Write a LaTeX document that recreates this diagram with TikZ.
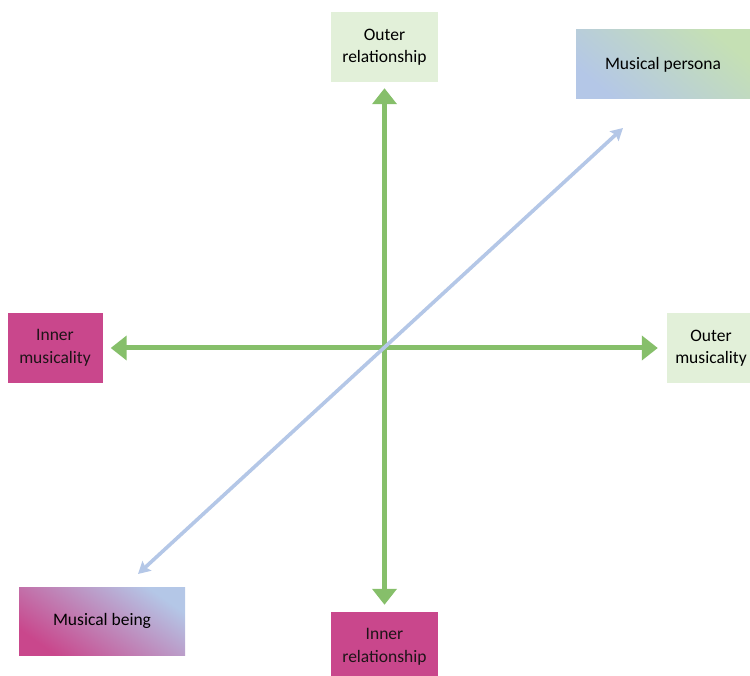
\documentclass[tikz,border=0pt]{standalone}
\usepackage{fontspec}
\setmainfont{Carlito}
\usetikzlibrary{arrows.meta}
\definecolor{lgreen}{HTML}{E2F0D9}
\definecolor{mgreen}{HTML}{C5E0B4}
\definecolor{magent}{HTML}{C9478C}
\definecolor{lblue}{HTML}{B4C7E7}
\definecolor{agreen}{HTML}{86BF6A}
\definecolor{txtdark}{HTML}{1E1418}
\tikzset{
  box/.style={draw=none, align=center, inner sep=0pt, font=\fontsize{17.5}{22.5}\selectfont},
  outerbox/.style={box, fill=lgreen, text=black},
  innerbox/.style={box, fill=magent, text=txtdark},
  greenarrow/.style={draw=agreen, line width=5pt, {Triangle[width=24pt,length=16pt]}-{Triangle[width=24pt,length=16pt]}},
  bluearrow/.style={draw=lblue, line width=3.6pt, {Stealth[width=13pt,length=12pt,inset=2pt]}-{Stealth[width=13pt,length=12pt,inset=2pt]}}
}
\begin{document}
\begin{tikzpicture}[x=1pt,y=-1pt]
\useasboundingbox (0,0) rectangle (750,676);
% boxes
\node[outerbox, minimum width=107pt, minimum height=70pt] (orel) at (384.5,47) {Outer\\relationship};
\node[innerbox, minimum width=107pt, minimum height=70pt] (irel) at (384.5,647) {Inner\\relationship};
\node[innerbox, minimum width=95pt, minimum height=70pt] (imus) at (55,348) {Inner\\musicality};
\node[outerbox, minimum width=88pt, minimum height=70pt] (omus) at (711,348) {Outer\\musicality};
\node[box, minimum width=174pt, minimum height=69pt, top color=mgreen, bottom color=lblue, shading angle=-40, text=black] (pers) at (663,64.5) {Musical persona};
\node[box, minimum width=166pt, minimum height=68pt, top color=lblue, bottom color=magent, shading angle=-35, text=black] (being) at (102,621) {Musical being};
% connectors
\draw[greenarrow, shorten <=6pt, shorten >=7pt] (orel.south) -- (irel.north);
\draw[greenarrow, shorten <=8pt, shorten >=9pt] (imus.east) -- (omus.west);
\coordinate (dlow) at (138,574);
\coordinate (dhigh) at (623,128);
\draw[bluearrow] (dlow) -- (dhigh);
\end{tikzpicture}
\end{document}
